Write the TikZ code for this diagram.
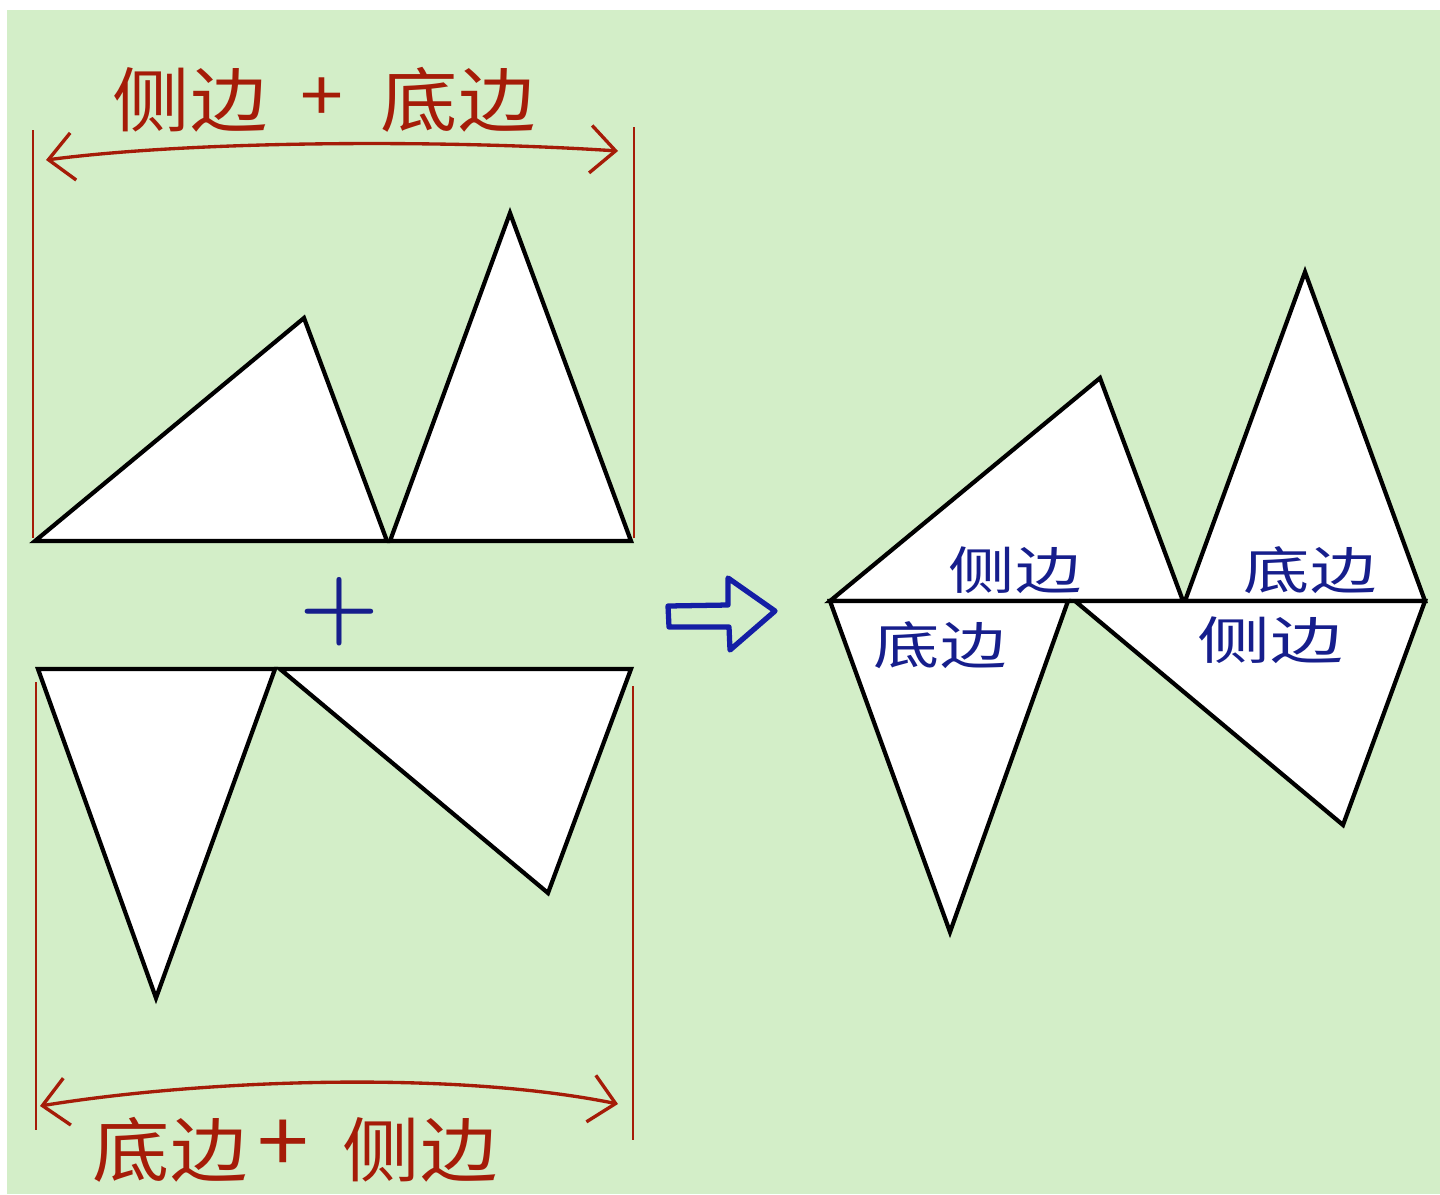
\documentclass[tikz,border=0pt]{standalone}
\usepackage{fontspec}
\newfontfamily\cjk{Noto Sans CJK SC}
\usetikzlibrary{arrows.meta}
\definecolor{bggreen}{RGB}{211,238,200}
\definecolor{hred}{RGB}{165,28,8}
\definecolor{hblue}{RGB}{22,30,140}
\definecolor{pblue}{RGB}{20,30,165}
\tikzset{
  tri/.style={draw=black,fill=white,line width=2.4pt,line join=miter},
  redline/.style={draw=hred,line width=1.3pt},
  redarrow/.style={draw=hred,line width=1.9pt,{Straight Barb[length=0.5cm,width=0.95cm]}-{Straight Barb[length=0.5cm,width=0.95cm]}},
  redtxt/.style={text=hred,font=\cjk\fontsize{40}{44}\selectfont,inner sep=0pt,xscale=1.1},
  bluetxt/.style={text=hblue,font=\cjk\fontsize{29}{32}\selectfont,inner sep=0pt,xscale=1.3},
}
\begin{document}
\begin{tikzpicture}[x=0.02cm,y=-0.02cm]
\useasboundingbox (0,0) rectangle (1440,1194);
\fill[white] (0,0) rectangle (1440,1194);
\fill[bggreen] (7,10) rectangle (1440,1194);

% ---- top-left pair
\draw[tri] (35,541) -- (304,318) -- (387,541) -- cycle;
\draw[tri] (390,541) -- (510,213) -- (631,541) -- cycle;
\draw[redline] (33,130) -- (33,538);
\draw[redline] (634,127) -- (634,538);
\coordinate (tl) at (46,160);
\coordinate (tr) at (618,151);
\draw[redarrow] (tl) .. controls (200,140) and (450,140) .. (tr);
\node[redtxt] (t1) at (190,100) {侧边};
\node[redtxt] (t2) at (322,100) {+};
\node[redtxt] (t3) at (458,100) {底边};

% plus sign
\node[text=hblue,font=\rmfamily\bfseries\fontsize{52}{56}\selectfont,inner sep=0pt] (plus) at (339,612) {+};

% ---- bottom-left pair
\draw[tri] (38,669) -- (275,669) -- (156,998) -- cycle;
\draw[tri] (280,669) -- (631,669) -- (548,893) -- cycle;
\draw[redline] (36,682) -- (36,1130);
\draw[redline] (633,686) -- (633,1140);
\coordinate (bl) at (40,1106);
\coordinate (br) at (618,1104);
\draw[redarrow] (bl) .. controls (200,1080) and (450,1070) .. (br);
\node[redtxt] (b1) at (170,1150) {底边};
\node[redtxt,font=\cjk\fontsize{48}{52}\selectfont] (b2) at (283,1146) {+};
\node[redtxt] (b3) at (420,1150) {侧边};

% ---- hollow arrow
\draw[draw=pblue,line width=3pt,line join=round]
  (668,606) -- (728,605) -- (728,578) -- (775,611) -- (730,650) -- (729,627) -- (669,627) -- cycle;

% ---- right figure
\draw[tri] (830,601) -- (1100,378) -- (1183,601) -- cycle;
\draw[tri] (1185,601) -- (1305,272) -- (1425,601) -- cycle;
\draw[tri] (830,601) -- (1068,601) -- (950,932) -- cycle;
\draw[tri] (1075,601) -- (1425,601) -- (1343,825) -- cycle;
\node[bluetxt] (r1) at (1015,570) {侧边};
\node[bluetxt] (r2) at (1310,570) {底边};
\node[bluetxt] (r3) at (940,645) {底边};
\node[bluetxt,xscale=1.1] (r4) at (1270,640) {侧边};
\end{tikzpicture}
\end{document}
